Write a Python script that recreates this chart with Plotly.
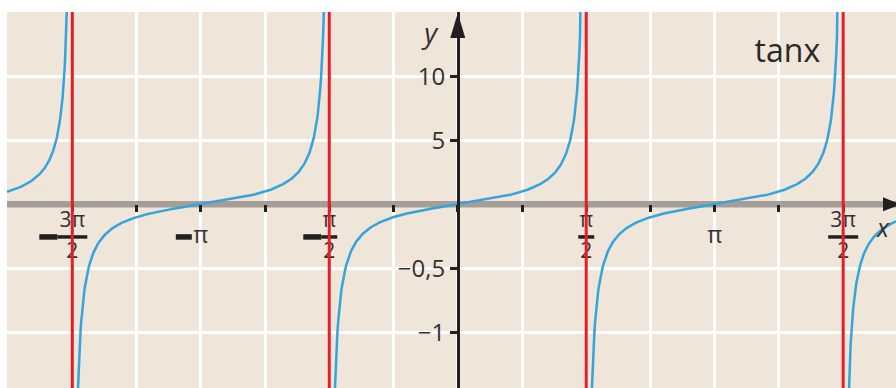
import numpy as np
import plotly.graph_objects as go

PI = np.pi

# ---- data ----
asymptotes = [-3 * PI / 2, -PI / 2, PI / 2, 3 * PI / 2]
frac_vals = [-3 * PI / 2, -PI / 2, PI / 2, 3 * PI / 2]
frac_num = ["3π", "π", "π", "3π"]
frac_den = ["2", "2", "2", "2"]
frac_neg = [True, True, False, False]
plain_vals = [-PI, PI]
plain_text = ["π", "π"]
plain_neg = [True, False]
x_grid_vals = [k * PI / 4 for k in range(-6, 7)]
y_tick_vals = [10, 5, -5, -10]
y_tick_text = ["10", "5", "−0,5", "−1"]
func_label = "tan x"

# ---- layout constants ----
XMIN, XMAX = -5.511, 5.358
YMIN, YMAX = -14.37, 15.05
NUM_Y, BAR_Y, DEN_Y = -1.38, -2.55, -3.78
TXT = "#353131"
INK = "#231f20"

# curve: tan x on each branch between asymptotes
bounds = [XMIN] + asymptotes + [XMAX]
xs, ys = [], []
eps = 0.03
for a, b in zip(bounds[:-1], bounds[1:]):
    lo = a + (eps if a in asymptotes else 0)
    hi = b - (eps if b in asymptotes else 0)
    xx = np.linspace(lo, hi, 400)
    xs += list(xx) + [None]
    ys += list(np.tan(xx)) + [None]

fig = go.Figure()
fig.add_trace(go.Scatter(x=xs, y=ys, mode="lines",
                         line=dict(color="#34a4dd", width=2.5),
                         hoverinfo="skip", showlegend=False))

font = dict(family="Open Sans", color=TXT)
fig.add_trace(go.Scatter(x=frac_vals, y=[NUM_Y] * len(frac_vals), mode="text",
                         text=frac_num, textposition="middle center",
                         textfont=dict(size=21, **font), hoverinfo="skip", showlegend=False))
fig.add_trace(go.Scatter(x=frac_vals, y=[DEN_Y] * len(frac_vals), mode="text",
                         text=frac_den, textposition="middle center",
                         textfont=dict(size=21, **font), hoverinfo="skip", showlegend=False))
fig.add_trace(go.Scatter(x=plain_vals, y=[BAR_Y] * len(plain_vals), mode="text",
                         text=plain_text, textposition="middle center",
                         textfont=dict(size=23, **font), hoverinfo="skip", showlegend=False))
# axis names and function label
fig.add_trace(go.Scatter(x=[-0.33], y=[13.2], mode="text",
                         text=["<i>y</i>"], textposition="middle center",
                         textfont=dict(size=28, **font), hoverinfo="skip", showlegend=False))
fig.add_trace(go.Scatter(x=[5.2], y=[-2.1], mode="text",
                         text=["<i>x</i>"], textposition="middle center",
                         textfont=dict(size=25, **font), hoverinfo="skip", showlegend=False))
fig.add_trace(go.Scatter(x=[4.03], y=[11.75], mode="text",
                         text=[func_label.replace(" ", "")], textposition="middle center",
                         textfont=dict(size=32, family="Open Sans", color="#2b2727"),
                         hoverinfo="skip", showlegend=False))

shapes = []
shapes.append(dict(type="line", xref="x", yref="y", x0=XMIN, x1=XMAX, y0=0, y1=0,
                   line=dict(color="#a59d97", width=6.5), layer="between"))
for v, num, neg in zip(frac_vals, frac_num, frac_neg):
    half = 15 if len(num) > 1 else 8
    shapes.append(dict(type="line", xref="x", yref="y", xsizemode="pixel", xanchor=v,
                       x0=-half, x1=half, y0=BAR_Y, y1=BAR_Y,
                       line=dict(color=INK, width=3.5), layer="above"))
    if neg:
        shapes.append(dict(type="line", xref="x", yref="y", xsizemode="pixel", xanchor=v,
                           x0=-half - 18, x1=-half, y0=BAR_Y, y1=BAR_Y,
                           line=dict(color=INK, width=5.5), layer="above"))
for v, neg in zip(plain_vals, plain_neg):
    if neg:
        shapes.append(dict(type="line", xref="x", yref="y", xsizemode="pixel", xanchor=v,
                           x0=-25, x1=-9, y0=BAR_Y, y1=BAR_Y,
                           line=dict(color=INK, width=5.5), layer="above"))
shapes.append(dict(type="path", xref="x", yref="y", xsizemode="pixel", ysizemode="pixel",
                   xanchor=XMAX, yanchor=0, path="M -13 -7 L 5 0 L -13 7 Z",
                   fillcolor=INK, line=dict(width=0), layer="above"))
shapes.append(dict(type="path", xref="x", yref="y", xsizemode="pixel", ysizemode="pixel",
                   xanchor=0, yanchor=YMAX, path="M -7.5 -26 L 0 -1 L 7.5 -26 Z",
                   fillcolor=INK, line=dict(width=0), layer="above"))
for a in asymptotes:
    shapes.append(dict(type="line", xref="x", yref="paper", x0=a, x1=a, y0=0, y1=1,
                       line=dict(color="#e41e26", width=3), layer="above"))

fig.update_layout(
    width=896, height=388,
    margin=dict(l=7, r=0, t=12, b=0),
    paper_bgcolor="white", plot_bgcolor="#efe5d9",
    shapes=shapes,
    xaxis=dict(range=[XMIN, XMAX], tickvals=x_grid_vals, showticklabels=False,
               showgrid=True, gridcolor="white", gridwidth=3, zeroline=False,
               showline=False, ticks="outside", ticklen=7, tickwidth=2.5, tickcolor=INK,
               anchor="free", position=(0 - YMIN) / (YMAX - YMIN), fixedrange=True),
    yaxis=dict(range=[YMIN, YMAX], tickvals=y_tick_vals, ticktext=y_tick_text,
               showgrid=True, gridcolor="white", gridwidth=3, zeroline=False,
               showline=True, linecolor=INK, linewidth=2.5,
               ticks="outside", ticklen=7, tickwidth=2.5, tickcolor=INK,
               tickfont=dict(family="Open Sans", size=24, color=TXT),
               anchor="free", position=(0 - XMIN) / (XMAX - XMIN), fixedrange=True),
)

fig.write_html("out.html", post_script="document.body.style.margin='0';",
               config={"displayModeBar": False})
